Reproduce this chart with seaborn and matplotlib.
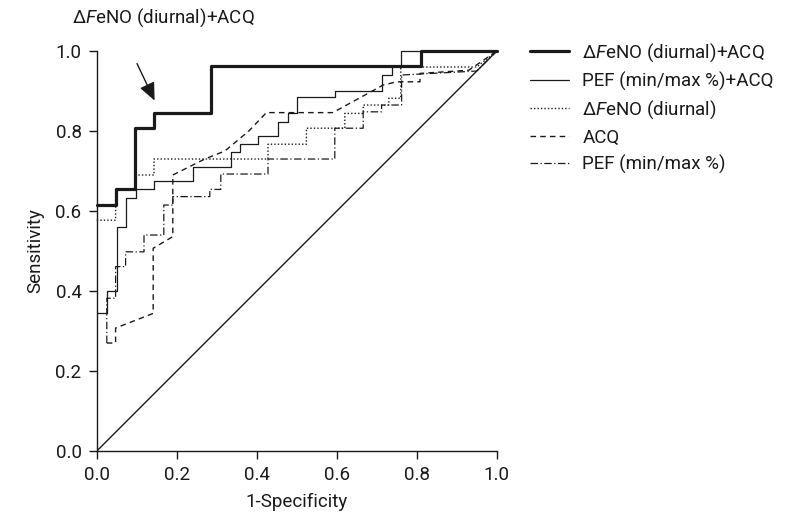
import matplotlib
matplotlib.use("Agg")
import matplotlib.pyplot as plt
import seaborn as sns
import pandas as pd

# ── ROC curve vertices (1-specificity, sensitivity) ──
FENO_ACQ_X = [0, 0.047, 0.047, 0.095, 0.095, 0.143, 0.143, 0.286, 0.286, 0.81, 0.81, 1.0]
FENO_ACQ_Y = [0.615, 0.615, 0.654, 0.654, 0.808, 0.808, 0.846, 0.846, 0.962, 0.962, 1.0, 1.0]

PEF_ACQ_X = [0, 0.025, 0.025, 0.05, 0.05, 0.072, 0.072, 0.097, 0.097, 0.143, 0.143, 0.24,
             0.24, 0.335, 0.335, 0.357, 0.357, 0.403, 0.403, 0.453, 0.453, 0.478, 0.478,
             0.50, 0.50, 0.596, 0.596, 0.712, 0.712, 0.737, 0.737, 0.76, 0.76, 1.0]
PEF_ACQ_Y = [0.345, 0.345, 0.40, 0.40, 0.56, 0.56, 0.633, 0.633, 0.654, 0.654, 0.675, 0.675,
             0.71, 0.71, 0.747, 0.747, 0.767, 0.767, 0.788, 0.788, 0.823, 0.823, 0.846,
             0.846, 0.886, 0.886, 0.90, 0.90, 0.94, 0.94, 0.962, 0.962, 1.0, 1.0]

FENO_X = [0, 0.047, 0.047, 0.097, 0.097, 0.143, 0.143, 0.428, 0.428, 0.524, 0.524, 0.62,
          0.62, 0.666, 0.666, 0.73, 0.73, 0.76, 0.76, 0.95, 1.0]
FENO_Y = [0.577, 0.577, 0.654, 0.654, 0.69, 0.69, 0.73, 0.73, 0.767, 0.767, 0.807, 0.807,
          0.844, 0.844, 0.865, 0.865, 0.882, 0.882, 0.96, 0.96, 1.0]

ACQ_X = [0.025, 0.047, 0.047, 0.141, 0.141, 0.19, 0.19, 0.27, 0.32, 0.38, 0.424, 0.59,
         0.716, 0.75, 0.808, 0.808, 0.93, 1.0]
ACQ_Y = [0.27, 0.27, 0.3075, 0.344, 0.507, 0.536, 0.69, 0.73, 0.75, 0.80, 0.846, 0.846,
         0.915, 0.923, 0.923, 0.944, 0.952, 1.0]

PEF_X = [0.025, 0.025, 0.047, 0.047, 0.072, 0.072, 0.118, 0.118, 0.1675, 0.1675, 0.19, 0.19,
         0.2825, 0.2825, 0.31, 0.31, 0.428, 0.428, 0.595, 0.595, 0.666, 0.666, 0.712, 0.712,
         0.762, 0.762, 0.95, 1.0]
PEF_Y = [0.27, 0.382, 0.382, 0.461, 0.461, 0.498, 0.498, 0.54, 0.54, 0.615, 0.615, 0.636,
         0.636, 0.654, 0.654, 0.6925, 0.6925, 0.73, 0.73, 0.807, 0.807, 0.848, 0.848, 0.865,
         0.865, 0.94, 0.95, 1.0]

REF_X = [0, 1]
REF_Y = [0, 1]

LABEL = "Δ$F$eNO (diurnal)"
FS = 13.5

# ── style ──
sns.set_theme(style="ticks")
plt.rcParams["font.family"] = ["Roboto", "DejaVu Sans"]
plt.rcParams["mathtext.fontset"] = "custom"
plt.rcParams["mathtext.it"] = "Roboto:italic"
plt.rcParams["mathtext.rm"] = "Roboto"

fig = plt.figure(figsize=(8, 5.18), dpi=100)
ax = fig.add_axes([0.121, 0.1293, 0.5, 0.7722])

curves = [
    (FENO_ACQ_X, FENO_ACQ_Y, LABEL + "+ACQ", 2.3, "-"),
    (PEF_ACQ_X, PEF_ACQ_Y, "PEF (min/max %)+ACQ", 0.9, "-"),
    (FENO_X, FENO_Y, LABEL, 1.0, (0, (1, 1.5))),
    (ACQ_X, ACQ_Y, "ACQ", 1.0, (0, (4, 3))),
    (PEF_X, PEF_Y, "PEF (min/max %)", 0.9, (0, (6, 2, 1, 2))),
]
for xs, ys, lab, lw, ls in curves:
    df = pd.DataFrame({"x": xs, "y": ys})
    sns.lineplot(data=df, x="x", y="y", sort=False, estimator=None, color="#1a1a1a",
                 linewidth=lw, linestyle=ls, label=lab, ax=ax, clip_on=False)

ref = pd.DataFrame({"x": REF_X, "y": REF_Y})
sns.lineplot(data=ref, x="x", y="y", sort=False, estimator=None, color="#1a1a1a",
             linewidth=1.0, ax=ax)

ax.set_xlim(0, 1)
ax.set_ylim(0, 1)
ax.set_xticks([0, 0.2, 0.4, 0.6, 0.8, 1.0])
ax.set_yticks([0, 0.2, 0.4, 0.6, 0.8, 1.0])
ax.xaxis.set_major_formatter(matplotlib.ticker.FormatStrFormatter("%.1f"))
ax.yaxis.set_major_formatter(matplotlib.ticker.FormatStrFormatter("%.1f"))
ax.tick_params(length=6, width=1, colors="#1a1a1a", labelsize=FS, pad=5)
for s in ["left", "bottom"]:
    ax.spines[s].set_color("#1a1a1a")
    ax.spines[s].set_linewidth(1)
sns.despine(ax=ax)
ax.set_xlabel("1-Specificity", fontsize=FS, color="#1a1a1a", labelpad=6)
ax.set_ylabel("Sensitivity", fontsize=FS, color="#1a1a1a", labelpad=8)

ax.text(-0.0625, 1.0825, LABEL + "+ACQ", transform=ax.transAxes, fontsize=FS,
        va="center", ha="left", color="#1a1a1a")
ax.annotate("", xy=(0.1475, 0.87), xytext=(0.0975, 0.975),
            arrowprops=dict(arrowstyle="-|>,head_length=0.9,head_width=0.4",
                            color="#1a1a1a", lw=1), annotation_clip=False)

leg = ax.legend(loc="upper left", bbox_to_anchor=(1.0825, 1.025), frameon=False,
                fontsize=FS, handlelength=2.1, handletextpad=0.7, labelspacing=0.42,
                borderpad=0, borderaxespad=0)
for t in leg.get_texts():
    t.set_color("#1a1a1a")

fig.savefig("out.png", dpi=100)
